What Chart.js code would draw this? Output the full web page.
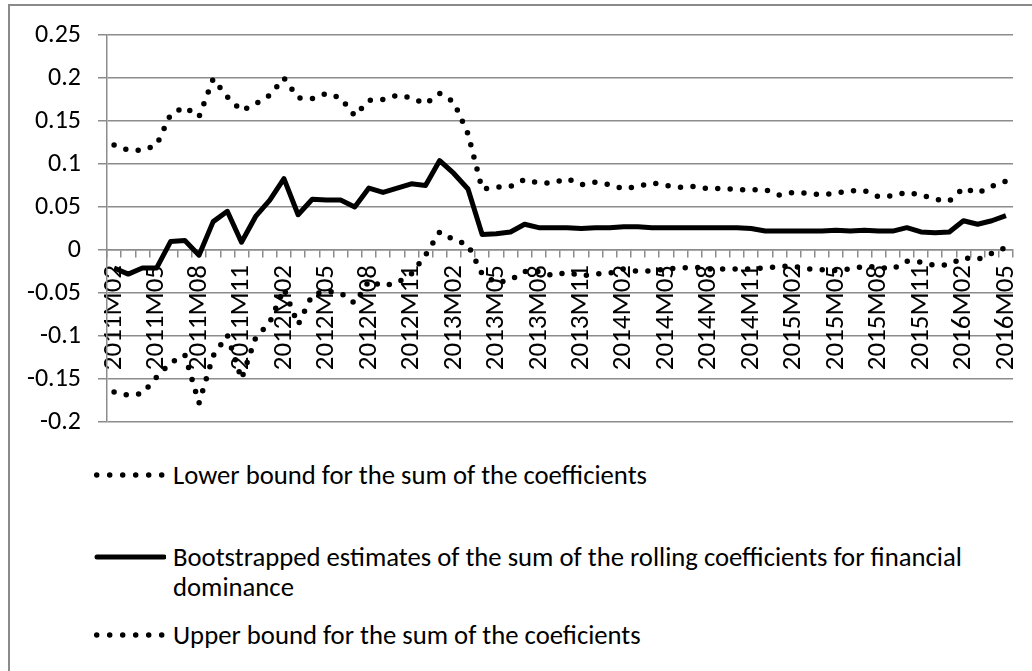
<!DOCTYPE html>
<html>
<head>
<meta charset="utf-8">
<script src="https://cdn.jsdelivr.net/npm/chart.js@4.4.1/dist/chart.umd.min.js"></script>
<style>
  html, body { margin: 0; padding: 0; background: #fff; }
  body { width: 1032px; height: 671px; overflow: hidden; position: relative; font-family: Carlito, Calibri, Lato, sans-serif; }
  #marco { position: absolute; left: 8px; top: 4px; width: 1060px; height: 720px; border: 2px solid #8a8a8a; box-sizing: border-box; }
  #caja { position: absolute; left: 0; top: 0; width: 1032px; height: 440px; }
  .item { position: absolute; left: 94px; display: flex; align-items: flex-start; }
  .item svg { margin-top: 9px; flex: none; }
  .item span { margin-left: 7px; width: 830px; font-size: 26.7px; line-height: 30px; color: #000; }
</style>
</head>
<body>
<div id="marco"></div>
<div id="caja"><canvas id="grafico" width="1032" height="440"></canvas></div>
<div id="leyenda"></div>
<script>
// Meses (eje horizontal)
const meses = [
  '2011M02','2011M03','2011M04','2011M05','2011M06','2011M07','2011M08','2011M09','2011M10','2011M11','2011M12',
  '2012M01','2012M02','2012M03','2012M04','2012M05','2012M06','2012M07','2012M08','2012M09','2012M10','2012M11','2012M12',
  '2013M01','2013M02','2013M03','2013M04','2013M05','2013M06','2013M07','2013M08','2013M09','2013M10','2013M11','2013M12',
  '2014M01','2014M02','2014M03','2014M04','2014M05','2014M06','2014M07','2014M08','2014M09','2014M10','2014M11','2014M12',
  '2015M01','2015M02','2015M03','2015M04','2015M05','2015M06','2015M07','2015M08','2015M09','2015M10','2015M11','2015M12',
  '2016M01','2016M02','2016M03','2016M04','2016M05'
];

// Limite inferior
const limiteInferior = [
  -0.165, -0.169, -0.167, -0.148, -0.131, -0.122, -0.178, -0.123, -0.099, -0.150,
  -0.102, -0.084, -0.045, -0.087, -0.052, -0.048, -0.050, -0.062, -0.036, -0.042,
  -0.038, -0.028, -0.006, 0.021, 0.012, 0.006, -0.028, -0.038, -0.035, -0.025,
  -0.025, -0.030, -0.026, -0.030, -0.028, -0.027, -0.022, -0.025, -0.024, -0.022,
  -0.021, -0.020, -0.022, -0.022, -0.022, -0.022, -0.021, -0.019, -0.019, -0.022,
  -0.023, -0.024, -0.022, -0.019, -0.020, -0.022, -0.013, -0.014, -0.018, -0.017,
  -0.009, -0.011, -0.004, 0.003
];

// Estimacion bootstrap (linea continua)
const estimacion = [
  -0.021, -0.028, -0.021, -0.021, 0.010, 0.011, -0.006, 0.033, 0.045, 0.009,
  0.039, 0.058, 0.083, 0.041, 0.059, 0.058, 0.058, 0.050, 0.072, 0.067,
  0.072, 0.077, 0.075, 0.104, 0.089, 0.071, 0.018, 0.019, 0.021, 0.030,
  0.026, 0.026, 0.026, 0.025, 0.026, 0.026, 0.027, 0.027, 0.026, 0.026,
  0.026, 0.026, 0.026, 0.026, 0.026, 0.025, 0.022, 0.022, 0.022, 0.022,
  0.022, 0.023, 0.022, 0.023, 0.022, 0.022, 0.026, 0.021, 0.020, 0.021,
  0.034, 0.030, 0.034, 0.040
];

// Limite superior
const limiteSuperior = [
  0.122, 0.116, 0.116, 0.122, 0.158, 0.166, 0.155, 0.199, 0.178, 0.162,
  0.170, 0.180, 0.200, 0.177, 0.176, 0.182, 0.177, 0.156, 0.174, 0.175,
  0.180, 0.177, 0.170, 0.182, 0.172, 0.135, 0.071, 0.073, 0.074, 0.082,
  0.078, 0.078, 0.083, 0.076, 0.079, 0.076, 0.071, 0.074, 0.078, 0.075,
  0.073, 0.074, 0.071, 0.072, 0.070, 0.070, 0.070, 0.064, 0.067, 0.066,
  0.064, 0.066, 0.069, 0.069, 0.062, 0.063, 0.067, 0.064, 0.059, 0.057,
  0.072, 0.066, 0.074, 0.080
];

const nombres = [
  'Lower bound for the sum of the coefficients',
  'Bootstrapped estimates of the sum of the rolling coefficients for financial dominance',
  'Upper bound for the sum of the coeficients'
];

const fuente = 'Carlito, Calibri, Lato, sans-serif';
const gris = '#8c8c8c';
const punteado = [0, 12.5];

let grafico = document.getElementById('grafico').getContext('2d');

let diagrama = new Chart(grafico, {
  type: 'line',
  data: {
    labels: meses,
    datasets: [
      { label: nombres[0], data: limiteInferior, borderColor: '#000', borderWidth: 5.5, borderDash: punteado, borderCapStyle: 'round' },
      { label: nombres[1], data: estimacion, borderColor: '#000', borderWidth: 5, borderJoinStyle: 'round' },
      { label: nombres[2], data: limiteSuperior, borderColor: '#000', borderWidth: 5.5, borderDash: punteado, borderCapStyle: 'round' }
    ]
  },
  options: {
    responsive: false,
    animation: false,
    devicePixelRatio: 1,
    layout: { padding: { left: 0, right: 19, top: 35, bottom: 18 } },
    elements: { point: { radius: 0 }, line: { tension: 0 } },
    plugins: { legend: { display: false }, tooltip: { enabled: false } },
    scales: {
      x: {
        position: { y: 0 },
        offset: true,
        // las etiquetas giradas no deben comerse el margen derecho
        afterFit: (escala) => { escala.paddingLeft = 0; escala.paddingRight = 0; },
        grid: { drawOnChartArea: false, offset: true, tickLength: 7, color: gris, lineWidth: 1.5 },
        border: { color: gris, width: 1.5 },
        ticks: {
          autoSkip: false, minRotation: 90, maxRotation: 90, padding: 8,
          color: '#000', font: { family: fuente, size: 27 },
          callback: (v, i) => (i % 3 === 0 ? meses[i] : '')
        }
      },
      y: {
        min: -0.2,
        max: 0.25,
        afterFit: (escala) => { escala.width = 107; escala.paddingTop = 0; escala.paddingBottom = 0; },
        grid: { color: gris, lineWidth: 1.5, tickLength: 9 },
        border: { color: gris, width: 1.5 },
        ticks: {
          stepSize: 0.05, padding: 17, color: '#000', font: { family: fuente, size: 26 },
          callback: (v) => String(Number(v.toFixed(2)))
        }
      }
    }
  }
});

// Leyenda en HTML (para que el texto largo pueda partirse en dos lineas)
const posLeyenda = [460, 542, 620];
const leyenda = document.getElementById('leyenda');
diagrama.data.datasets.forEach((ds, i) => {
  const item = document.createElement('div');
  item.className = 'item';
  item.style.top = posLeyenda[i] + 'px';
  const dash = ds.borderDash ? 'stroke-dasharray="0 13"' : '';
  const x1 = ds.borderDash ? 2.7 : 3;
  const x2 = ds.borderDash ? 68 : 70;
  item.innerHTML = '<svg width="72" height="12"><line x1="' + x1 + '" y1="6" x2="' + x2 + '" y2="6" stroke="#000" stroke-width="' +
    ds.borderWidth + '" stroke-linecap="round" ' + dash + '/></svg><span></span>';
  item.querySelector('span').textContent = ds.label;
  leyenda.appendChild(item);
});
</script>
</body>
</html>
